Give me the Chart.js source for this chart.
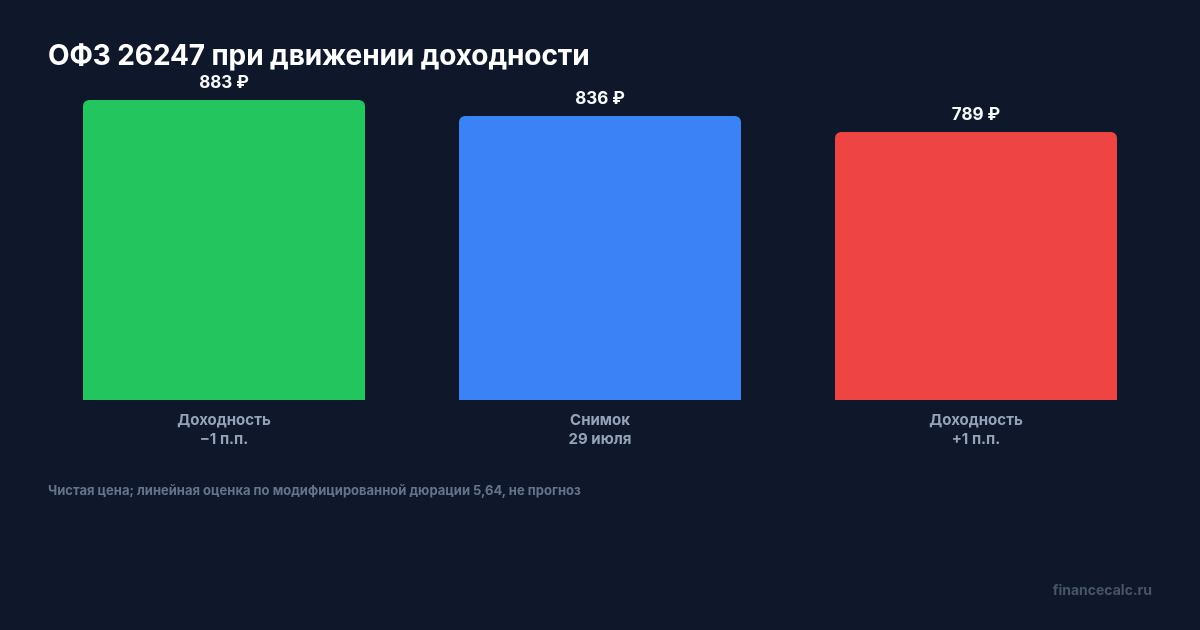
<!DOCTYPE html>
<html lang="ru">
<head>
<meta charset="utf-8">
<script src="https://cdn.jsdelivr.net/npm/chart.js@4"></script>
<style>
  html, body { margin: 0; padding: 0; background: #0f172a; }
  #wrap { position: relative; width: 1200px; height: 630px; font-family: Inter, "Noto Sans", sans-serif; }
  #chart { position: absolute; left: 0; top: 0; }
  .title { position: absolute; left: 48px; top: 38px; font-size: 28px; font-weight: 700; color: #ffffff; line-height: 34px; letter-spacing: -0.1px; }
  .note { position: absolute; left: 48px; top: 481px; font-size: 13px; font-weight: 700; color: #64748b; line-height: 18px; }
  .brand { position: absolute; right: 48px; top: 581px; font-size: 14px; font-weight: 700; color: #475569; line-height: 18px; }
</style>
</head>
<body>
<div id="wrap">
  <canvas id="chart" width="1200" height="630"></canvas>
  <div class="title">ОФЗ 26247 при движении доходности</div>
  <div class="note">Чистая цена; линейная оценка по модифицированной дюрации 5,64, не прогноз</div>
  <div class="brand">financecalc.ru</div>
</div>
<script>
// Данные графика
const categories = [
    ['Доходность', '−1 п.п.'],
    ['Снимок', '29 июля'],
    ['Доходность', '+1 п.п.']
];
const prices = [883, 836, 789];
const barColors = ['#22c55e', '#3b82f6', '#ef4444'];

// Подписи значений над столбцами
const valueLabels = {
    id: 'valueLabels',
    afterDatasetsDraw(chart) {
        const ctx = chart.ctx;
        const meta = chart.getDatasetMeta(0);
        ctx.save();
        ctx.font = '700 17px Inter, "Noto Sans", sans-serif';
        ctx.fillStyle = '#f8fafc';
        ctx.textAlign = 'center';
        ctx.textBaseline = 'alphabetic';
        meta.data.forEach((bar, i) => {
            ctx.fillText(prices[i] + ' ₽', bar.x, bar.y - 12);
        });
        ctx.restore();
    }
};

new Chart(document.getElementById('chart'), {
    type: 'bar',
    data: {
        labels: categories,
        datasets: [{
            data: prices,
            backgroundColor: barColors,
            borderRadius: 6,
            borderSkipped: 'bottom',
            barPercentage: 0.75,
            categoryPercentage: 1
        }]
    },
    options: {
        responsive: false,
        animation: false,
        layout: { padding: { left: 36, right: 36, top: 100, bottom: 178 } },
        plugins: {
            legend: { display: false },
            tooltip: { enabled: false }
        },
        scales: {
            x: {
                grid: { display: false },
                border: { display: false },
                ticks: {
                    color: '#94a3b8',
                    font: { family: 'Inter', size: 15, weight: 700, lineHeight: 1.27 },
                    padding: 3,
                    maxRotation: 0
                }
            },
            y: {
                display: false,
                min: 0,
                max: Math.max(...prices)
            }
        }
    },
    plugins: [valueLabels]
});
</script>
</body>
</html>
